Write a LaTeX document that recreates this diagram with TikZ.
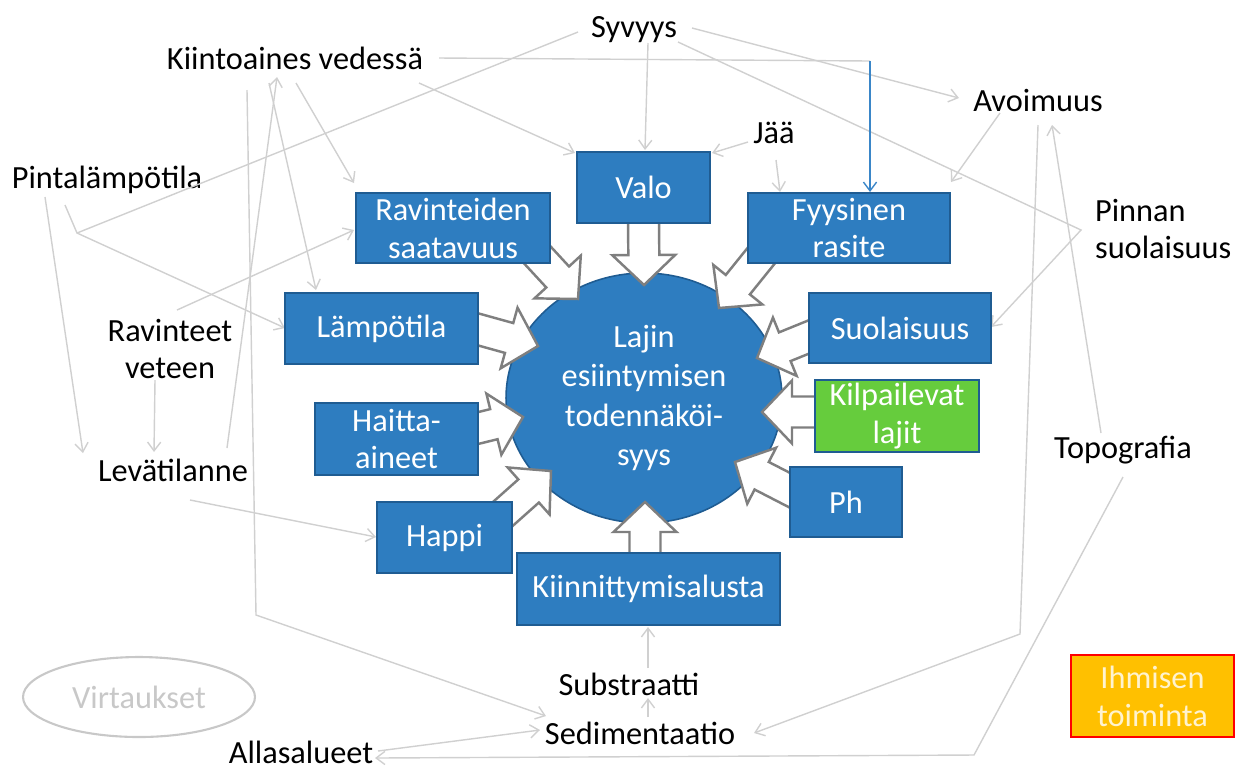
\documentclass[tikz,border=0pt]{standalone}
\usepackage{fontspec}
\setmainfont{Carlito}
\usetikzlibrary{calc,arrows.meta,shapes.geometric}
\pgfdeclarelayer{bg}\pgfdeclarelayer{fg}\pgfsetlayers{bg,main,fg}
\definecolor{boxblue}{HTML}{2E7DC0}
\definecolor{boxedge}{HTML}{1F5C92}
\definecolor{lgray}{HTML}{D0D0D0}
\definecolor{fagray}{HTML}{7F7F7F}
\definecolor{kgreen}{HTML}{66CC3D}
\definecolor{ihorange}{HTML}{FFC000}
\definecolor{ihtext}{HTML}{FFF3CF}
\definecolor{linkblue}{HTML}{3A86C8}
\definecolor{virtgray}{HTML}{C8C8C8}
% #1 tail node, #2,#3 offset; #4 tip node, #5,#6 offset
\newcommand\fatarr[6]{%
  \coordinate (faS) at ([shift={(#2,#3)}]#1.center);
  \coordinate (faT) at ([shift={(#5,#6)}]#4.center);
  \coordinate (faB) at ($(faT)!0.6cm!(faS)$);
  \draw[fatarrow] ($(faS)!0.31cm!90:(faT)$) -- ($(faB)!0.31cm!90:(faT)$) -- ($(faB)!0.63cm!90:(faT)$) -- (faT)
     -- ($(faB)!0.63cm!-90:(faT)$) -- ($(faB)!0.31cm!-90:(faT)$) -- ($(faS)!0.31cm!-90:(faT)$) -- cycle;}
\tikzset{
  txt/.style={font=\fontsize{18.4}{21.6}\selectfont},
  lbl/.style={txt, text=black, inner sep=1pt, align=center},
  bx/.style={txt, rectangle, fill=boxblue, draw=boxedge, line width=0.9pt, text=white, align=center, inner sep=0pt},
  con/.style={draw=lgray, line width=0.8pt, -{Straight Barb[length=5pt,width=7.5pt]}},
  conn/.style={draw=lgray, line width=0.8pt},
  fatarrow/.style={draw=fagray, fill=white, line width=1.4pt, line join=miter},
}
\begin{document}
\begin{tikzpicture}[x=0.02cm, y=-0.02cm]
\useasboundingbox (0,0) rectangle (1236,769);
% centre
\begin{pgfonlayer}{bg}
\node[ellipse, fill=boxblue, draw=boxedge, line width=0.9pt, minimum width=5.52cm, minimum height=5.0cm,
  inner sep=0pt, text=white, align=center, font=\fontsize{18.4}{22.4}\selectfont] (circ) at (644,398)
  {Lajin\\esiintymisen\\todennäköi-\\syys};
\end{pgfonlayer}
% boxes
\begin{pgfonlayer}{fg}
\node[bx, minimum width=2.66cm, minimum height=1.42cm] (valo) at (643.5,187.5) {Valo};
\node[bx, minimum width=3.88cm, minimum height=1.40cm] (ravs) at (453,228) {Ravinteiden\\saatavuus};
\node[bx, minimum width=4.04cm, minimum height=1.40cm] (fyys) at (849,228) {Fyysinen\\rasite};
\node[bx, minimum width=3.86cm, minimum height=1.42cm] (lamp) at (381.5,328.5) {Lämpötila};
\node[bx, minimum width=3.64cm, minimum height=1.40cm] (suol) at (900,328) {Suolaisuus};
\node[bx, minimum width=3.26cm, minimum height=1.44cm] (hait) at (396.5,439) {Haitta-\\aineet};
\node[bx, fill=kgreen, minimum width=3.28cm, minimum height=1.44cm] (kilp) at (897,416) {Kilpailevat\\lajit};
\node[bx, minimum width=2.70cm, minimum height=1.42cm] (happi) at (444.5,537.5) {Happi};
\node[bx, minimum width=2.24cm, minimum height=1.40cm] (ph) at (846,502) {Ph};
\node[bx, minimum width=5.26cm, minimum height=1.44cm] (kbox) at (648.5,589) {Kiinnittymisalusta};
\end{pgfonlayer}
\node[txt, rectangle, fill=ihorange, draw=red, line width=1.3pt, minimum width=3.26cm, minimum height=1.64cm,
  inner sep=0pt, text=ihtext, align=center] (ihm) at (1152.5,696) {Ihmisen\\toiminta};
\node[txt, ellipse, draw=virtgray, line width=1.2pt, minimum width=4.64cm, minimum height=1.6cm,
  inner sep=0pt, text=virtgray] (virt) at (139,697) {Virtaukset};
% labels
\node[lbl] (syv) at (634,30) {Syvyys};
\node[lbl] (kiin) at (295,58) {Kiintoaines vedessä};
\node[lbl] (avo) at (1038,100) {Avoimuus};
\node[lbl] (jaa) at (774,133) {Jää};
\node[lbl] (pint) at (107,180) {Pintalämpötila};
\node[lbl, align=left, anchor=west] (pinn) at (1093,229) {Pinnan\\suolaisuus};
\node[lbl] (rav) at (170,349) {Ravinteet\\veteen};
\node[lbl] (lev) at (173,470) {Levätilanne};
\node[lbl] (topo) at (1123,450) {Topografia};
\node[lbl] (subs) at (629,684) {Substraatti};
\node[lbl] (sed) at (640,733) {Sedimentaatio};
\node[lbl] (alla) at (301,752) {Allasalueet};
% bend points
\coordinate (k1) at ([shift={(-12,1)}]pinn.west);
\coordinate (k2) at ([shift={(-30,53)}]pint.center);
\coordinate (k3) at (256,615);
\coordinate (k4) at (870,61);
\coordinate (k5) at (1020,634);
\coordinate (k6) at (974,755);
% fat arrows
\fatarr{valo}{0}{24.5}{circ}{0}{-113}
\fatarr{ravs}{77}{19}{circ}{-66}{-99}
\fatarr{fyys}{-80}{18}{circ}{75}{-90}
\fatarr{lamp}{84.5}{-2.5}{circ}{-106}{-52}
\fatarr{suol}{-79}{4}{circ}{113}{-40}
\fatarr{hait}{69.5}{-8}{circ}{-121}{19}
\fatarr{kilp}{-70}{-4}{circ}{118}{14}
\fatarr{ph}{-45}{-6}{circ}{91}{64}
\fatarr{happi}{51.5}{-17.5}{circ}{-93}{73}
\fatarr{kbox}{-3.5}{-24}{circ}{1}{104}
% connectors
\draw[con] ([shift={(14,13)}]syv.center) -- ([shift={(1.5,-37.5)}]valo.center);
\draw[con] ([shift={(58,-2)}]syv.center) -- ([shift={(-79,-2)}]avo.center);
\draw[con] ([shift={(44,12)}]syv.center) -- (k1) -- ([shift={(91,-1)}]suol.center);
\draw[conn] ([shift={(-56,2)}]syv.center) -- (k2);
\draw[con] ([shift={(-42,25)}]pint.center) -- (k2) -- ([shift={(-96.5,-0.5)}]lamp.center);
\draw[con] ([shift={(-62,17)}]pint.center) -- ([shift={(-90,-17)}]lev.center);
\draw[con] ([shift={(124,25)}]kiin.center) -- ([shift={(-68.5,-34.5)}]valo.center);
\draw[con] ([shift={(1,25)}]kiin.center) -- ([shift={(-99,-45)}]ravs.center);
\draw[con] ([shift={(-26,25)}]kiin.center) -- ([shift={(-65.5,-38.5)}]lamp.center);
\draw[con] ([shift={(54,-22)}]lev.center) -- ([shift={(-18,19)}]kiin.center);
\draw[con] ([shift={(-48,32)}]kiin.center) -- (k3) -- ([shift={(-94,-17)}]sed.center);
\draw[conn] ([shift={(144,0)}]kiin.center) -- (k4);
\draw[con, draw=linkblue] (k4) -- ([shift={(21,-36)}]fyys.center);
\draw[con] ([shift={(7,-39)}]rav.center) -- ([shift={(-99,2)}]ravs.center);
\draw[con] ([shift={(-15,31)}]rav.center) -- ([shift={(-19,-18)}]lev.center);
\draw[con] ([shift={(17,30)}]lev.center) -- ([shift={(-68.5,-0.5)}]happi.center);
\draw[con] ([shift={(-26,9)}]jaa.center) -- ([shift={(68.5,-34.5)}]valo.center);
\draw[con] ([shift={(2,27)}]jaa.center) -- ([shift={(-69,-36)}]fyys.center);
\draw[con] ([shift={(-38,13)}]avo.center) -- ([shift={(102,-46)}]fyys.center);
\draw[con] ([shift={(0,25)}]avo.center) -- (k5) -- ([shift={(114,0)}]sed.center);
\draw[con] ([shift={(-22,-17)}]topo.center) -- ([shift={(14,25)}]avo.center);
\draw[con] ([shift={(0,27)}]topo.center) -- (k6) -- ([shift={(74,6)}]alla.center);
\draw[con] ([shift={(77,-1)}]alla.center) -- ([shift={(-100,-3)}]sed.center);
\draw[con] ([shift={(8,-16)}]sed.center) -- ([shift={(19,14)}]subs.center);
\draw[con] ([shift={(19,-16)}]subs.center) -- ([shift={(-0.5,38)}]kbox.center);
\end{tikzpicture}
\end{document}
